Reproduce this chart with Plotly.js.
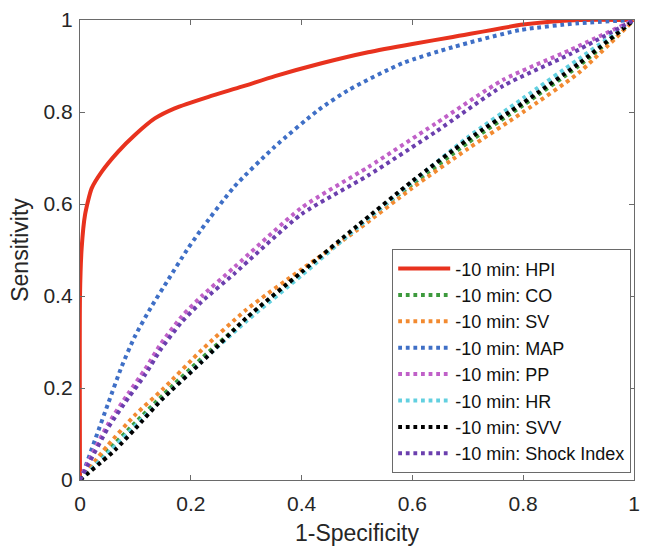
<!DOCTYPE html>
<html>
<head>
<meta charset="utf-8">
<script src="https://cdn.plot.ly/plotly-3.0.1.min.js"></script>
<style>html,body{margin:0;padding:0;background:#fff;} #chart{width:647px;height:546px;}</style>
</head>
<body>
<div id="chart"></div>
<script>
// Series names
const seriesNames = ["-10 min: HPI", "-10 min: CO", "-10 min: SV", "-10 min: MAP", "-10 min: PP", "-10 min: HR", "-10 min: SVV", "-10 min: Shock Index"];

// ROC curves (1-Specificity, Sensitivity)
const hpiX = [0, 0, 0.003, 0.009, 0.021, 0.039, 0.069, 0.099, 0.135, 0.171, 0.232, 0.292, 0.352, 0.436, 0.52, 0.6, 0.673, 0.8, 0.9, 1];
const hpiY = [0, 0.40, 0.504, 0.576, 0.634, 0.67, 0.714, 0.75, 0.786, 0.808, 0.833, 0.855, 0.878, 0.906, 0.93, 0.948, 0.963, 0.99, 1, 1];

const coX = [0, 0.05, 0.1, 0.15, 0.22, 0.3, 0.4, 0.5, 0.6, 0.7, 0.8, 0.9, 1];
const coY = [0, 0.063, 0.125, 0.185, 0.265, 0.35, 0.45, 0.55, 0.643, 0.733, 0.815, 0.9, 1];

const svX = [0, 0.05, 0.1, 0.15, 0.22, 0.3, 0.4, 0.5, 0.6, 0.7, 0.8, 0.9, 1];
const svY = [0, 0.075, 0.142, 0.198, 0.283, 0.37, 0.458, 0.543, 0.635, 0.72, 0.80, 0.885, 1];

const mapX = [0, 0.003, 0.027, 0.051, 0.075, 0.099, 0.129, 0.159, 0.193, 0.218, 0.278, 0.351, 0.43, 0.485, 0.582, 0.673, 0.794, 0.9, 1];
const mapY = [0, 0.007, 0.087, 0.167, 0.246, 0.312, 0.377, 0.435, 0.5, 0.543, 0.637, 0.724, 0.804, 0.848, 0.906, 0.941, 0.978, 0.993, 1];

const ppX = [0, 0.015, 0.051, 0.087, 0.117, 0.147, 0.184, 0.22, 0.278, 0.4, 0.52, 0.642, 0.764, 0.885, 1];
const ppY = [0, 0.04, 0.122, 0.188, 0.24, 0.298, 0.356, 0.40, 0.462, 0.592, 0.68, 0.775, 0.87, 0.935, 1];

const hrX = [0, 0.05, 0.1, 0.15, 0.22, 0.3, 0.4, 0.5, 0.6, 0.7, 0.8, 0.9, 1];
const hrY = [0, 0.058, 0.118, 0.178, 0.258, 0.345, 0.445, 0.548, 0.648, 0.745, 0.83, 0.915, 1];

const svvX = [0, 0.063, 0.1, 0.147, 0.22, 0.3, 0.4, 0.5, 0.6, 0.7, 0.8, 0.9, 1];
const svvY = [0, 0.065, 0.112, 0.174, 0.257, 0.352, 0.452, 0.552, 0.65, 0.74, 0.82, 0.905, 1];

const shockX = [0, 0.015, 0.051, 0.087, 0.117, 0.147, 0.184, 0.22, 0.278, 0.4, 0.52, 0.642, 0.764, 0.885, 1];
const shockY = [0, 0.034, 0.114, 0.178, 0.228, 0.286, 0.344, 0.388, 0.448, 0.578, 0.662, 0.757, 0.857, 0.926, 1];

const tickVals = [0, 0.2, 0.4, 0.6, 0.8, 1];
const tickText = ["0", "0.2", "0.4", "0.6", "0.8", "1"];

const colors = ["#e8321e", "#3d9a3d", "#f28a30", "#3f6fc6", "#c060c8", "#62d0e0", "#000000", "#6b3fae"];
const xs = [hpiX, coX, svX, mapX, ppX, hrX, svvX, shockX];
const ys = [hpiY, coY, svY, mapY, ppY, hrY, svvY, shockY];

const traces = seriesNames.map((name, i) => ({
  x: xs[i], y: ys[i], name: name, mode: "lines", type: "scatter",
  line: {color: colors[i], width: 4, dash: i === 0 ? "solid" : "3.8px,3.8px", shape: "spline", smoothing: 0.6}
}));

const FONT = "Liberation Sans, Arial, Helvetica, sans-serif";
const axisCommon = {
  range: [0, 1], tickvals: tickVals, ticktext: tickText,
  showline: true, linecolor: "#6a6a6a", linewidth: 1.2, mirror: "ticks",
  ticks: "inside", ticklen: 5, tickcolor: "#6a6a6a",
  showgrid: false, zeroline: false, automargin: false,
  tickfont: {family: FONT, size: 21, color: "#262626"}
};

const layout = {
  width: 647, height: 546,
  margin: {l: 80, r: 13, t: 20, b: 66},
  paper_bgcolor: "#fff", plot_bgcolor: "#fff",
  font: {family: FONT, color: "#262626"},
  xaxis: Object.assign({}, axisCommon, {ticklabelstandoff: 5, title: {text: "1-Specificity", font: {family: FONT, size: 23, color: "#262626"}, standoff: 10}}),
  yaxis: Object.assign({}, axisCommon, {ticklabelstandoff: 2, title: {text: "Sensitivity", font: {family: FONT, size: 23, color: "#262626"}, standoff: 8}}),
  showlegend: true,
  legend: {
    x: 0.9946, xanchor: "right", y: 0.015, yanchor: "bottom",
    bgcolor: "#fff", bordercolor: "#6a6a6a", borderwidth: 1.2,
    font: {family: FONT, size: 18, color: "#111"},
    tracegroupgap: 0, itemwidth: 52
  }
};

Plotly.newPlot("chart", traces, layout, {displayModeBar: false, staticPlot: true});
</script>
</body>
</html>
